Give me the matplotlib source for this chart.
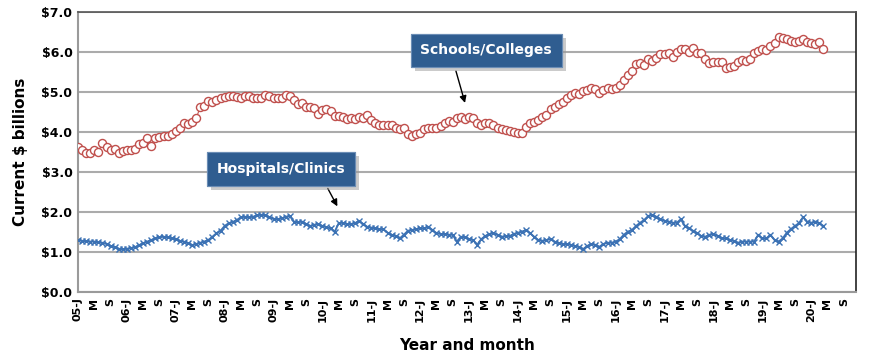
import matplotlib.pyplot as plt
import matplotlib.patheffects as pe

# valores mensuales, ene-2005 .. abr-2020 ($ miles de millones)
schools = [
    3.63, 3.55, 3.48, 3.48, 3.55, 3.51, 3.72, 3.63, 3.55, 3.57, 3.47, 3.53,
    3.56, 3.56, 3.57, 3.70, 3.72, 3.85, 3.65, 3.84, 3.88, 3.89, 3.90, 3.96,
    4.03, 4.10, 4.22, 4.20, 4.26, 4.34, 4.62, 4.65, 4.78, 4.75, 4.80, 4.85,
    4.87, 4.90, 4.89, 4.87, 4.85, 4.90, 4.89, 4.85, 4.85, 4.86, 4.93, 4.90,
    4.86, 4.86, 4.86, 4.93, 4.90, 4.80, 4.71, 4.73, 4.63, 4.62, 4.60, 4.46,
    4.54, 4.57, 4.52, 4.40, 4.40, 4.38, 4.33, 4.36, 4.33, 4.38,
    4.36, 4.42, 4.30, 4.22,
    4.17, 4.17, 4.17, 4.17, 4.09, 4.07, 4.09, 3.95, 3.90, 3.95, 3.98, 4.08,
    4.11, 4.11, 4.11, 4.15, 4.22, 4.28, 4.26, 4.34, 4.37, 4.32, 4.38, 4.34,
    4.22, 4.17, 4.23, 4.23, 4.17, 4.09, 4.07, 4.05, 4.03, 4.00, 3.97, 3.98,
    4.13, 4.22, 4.26, 4.30, 4.37, 4.43, 4.57, 4.63, 4.70, 4.76, 4.84, 4.92,
    4.98, 4.96, 5.03, 5.05, 5.09, 5.07, 4.98, 5.05, 5.09, 5.07, 5.09, 5.18,
    5.30, 5.43, 5.53, 5.70,
    5.72, 5.68, 5.82, 5.78, 5.84, 5.95, 5.95, 5.97, 5.88, 6.01, 6.07, 6.07,
    6.01, 6.09, 5.98, 5.97, 5.82, 5.73, 5.75, 5.75, 5.75, 5.59, 5.62, 5.65,
    5.76, 5.80, 5.78, 5.82, 5.97, 6.03, 6.07, 6.05, 6.15, 6.23, 6.37, 6.34,
    6.32, 6.28, 6.26, 6.28, 6.32, 6.26, 6.22, 6.20, 6.26, 6.07,
]
hospitals = [
    1.30, 1.28, 1.27, 1.26, 1.26, 1.24, 1.23, 1.20, 1.15, 1.12, 1.08, 1.07,
    1.08, 1.10, 1.12, 1.17, 1.22, 1.26, 1.30, 1.34, 1.37, 1.38, 1.37, 1.34,
    1.32, 1.28, 1.26, 1.22, 1.17, 1.20, 1.23, 1.26, 1.30, 1.38, 1.47, 1.53,
    1.65, 1.72, 1.75, 1.80, 1.87, 1.88, 1.87, 1.88, 1.92, 1.93, 1.92, 1.87,
    1.83, 1.82, 1.84, 1.88, 1.90, 1.76, 1.74, 1.76, 1.70, 1.65, 1.68, 1.70,
    1.65, 1.62, 1.59, 1.50, 1.72, 1.73, 1.70, 1.70, 1.72, 1.78, 1.70, 1.63,
    1.61, 1.59, 1.57, 1.57, 1.48, 1.43, 1.40, 1.34, 1.43, 1.53, 1.55, 1.57,
    1.59, 1.59, 1.63, 1.55, 1.47, 1.45, 1.45, 1.43, 1.43, 1.26, 1.38, 1.37,
    1.32, 1.30, 1.18, 1.32, 1.40, 1.45, 1.47, 1.43, 1.38, 1.40, 1.40, 1.45,
    1.48, 1.51, 1.55, 1.47, 1.38, 1.30, 1.28, 1.30, 1.32, 1.26, 1.22, 1.20,
    1.20, 1.18, 1.15, 1.13, 1.07, 1.15, 1.20, 1.18, 1.13, 1.20, 1.23, 1.23,
    1.26, 1.32, 1.43, 1.51, 1.55, 1.65, 1.73, 1.80, 1.90, 1.93, 1.88, 1.82,
    1.78, 1.76, 1.73, 1.73, 1.82, 1.65, 1.59, 1.53, 1.47, 1.40, 1.38, 1.43,
    1.45, 1.40, 1.34, 1.34, 1.30, 1.28, 1.23, 1.26, 1.26, 1.26, 1.26, 1.43,
    1.34, 1.34, 1.43, 1.30, 1.26, 1.34, 1.48, 1.57, 1.65, 1.72, 1.87, 1.76,
    1.73, 1.76, 1.72, 1.65,
]
years = list(range(5, 21))
tick_labels = []
for y in years:
    tick_labels += [f"{y:02d}-J", "M", "S"]
y_ticks = [0, 1, 2, 3, 4, 5, 6, 7]

red = "#C0504D"
blue = "#3C72B4"
box = "#2F5D90"

fig = plt.figure(figsize=(8.7, 3.61), dpi=100)
ax = fig.add_axes([78/870, 69/361, 778/870, 280/361])

x_s = list(range(len(schools)))
x_h = list(range(len(hospitals)))
ax.plot(x_h, hospitals, color=blue, lw=1.4, marker="x", ms=4, mew=1.0, zorder=3)
ax.plot(x_s, schools, color=red, lw=0.8, marker="o", ms=5.8, mew=1.0,
        mfc="white", mec=red, zorder=4)

ax.set_xlim(0, 191)
ax.set_ylim(0, 7)
ax.set_yticks(y_ticks)
ax.set_yticklabels([f"${v:.1f}" for v in y_ticks], fontsize=9, fontweight="bold")
ax.set_xticks(range(0, 4 * len(tick_labels), 4))
ax.set_xticklabels(tick_labels, rotation=90, fontsize=8, fontweight="bold")
ax.tick_params(axis="both", length=0, pad=4)
ax.grid(axis="y", color="#ABABAB", lw=1.5)
ax.set_axisbelow(True)

for s in ["left", "bottom"]:
    ax.spines[s].set_color("#9A9A9A")
    ax.spines[s].set_linewidth(1.5)
ax.spines["top"].set_color("#555555")
ax.spines["top"].set_linewidth(1.2)
ax.spines["right"].set_color("#222222")
ax.spines["right"].set_linewidth(1.2)

ax.set_ylabel("Current $ billions", fontsize=11, fontweight="bold", labelpad=10)
ax.set_xlabel("Year and month", fontsize=11, fontweight="bold", labelpad=12)

# cajas de etiqueta con flecha
def etiqueta(texto, cx, cy, ax0, ay0, ax1, ay1):
    ax.annotate("", xy=(ax1, ay1), xytext=(ax0, ay0),
                arrowprops=dict(arrowstyle="-|>", color="black", lw=1.0,
                                mutation_scale=10), zorder=5)
    t = ax.text(cx, cy, texto, ha="center", va="center", fontsize=10,
                fontweight="bold", color="white",
                bbox=dict(boxstyle="square,pad=0.7", fc=box, ec="#6B8DB5", lw=0.8),
                zorder=6)
    t.get_bbox_patch().set_path_effects(
        [pe.withSimplePatchShadow(offset=(3, -3), shadow_rgbFace="#999999", alpha=0.5),
         pe.Normal()])

etiqueta("Schools/Colleges", 100.2, 6.04, 92.6, 5.59, 95.2, 4.66)
etiqueta("Hospitals/Clinics", 49.8, 3.08, 61.0, 2.65, 64.0, 2.08)

fig.savefig("out.png", dpi=100)
